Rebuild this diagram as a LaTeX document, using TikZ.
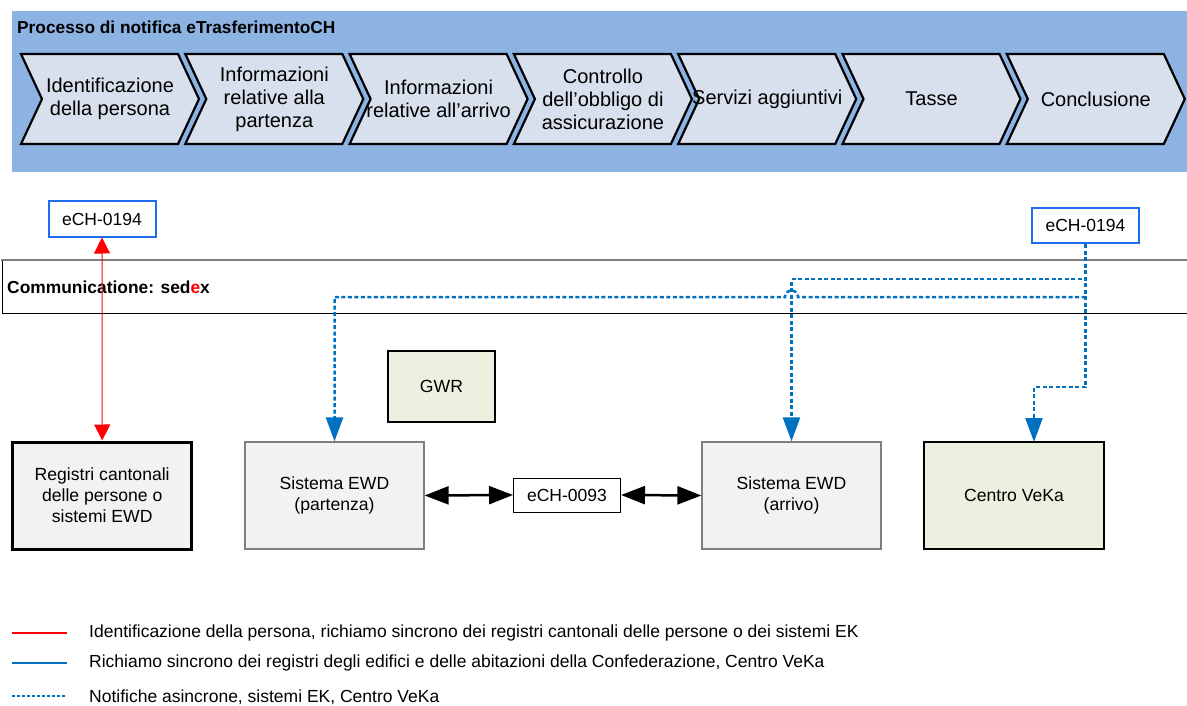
\documentclass[tikz,border=0pt]{standalone}
\usepackage{fontspec}
\setmainfont{Liberation Sans}
\usetikzlibrary{arrows.meta}

\definecolor{bandblue}{HTML}{8DB3E2}
\definecolor{chevfill}{HTML}{D7E0EC}
\definecolor{boxgray}{HTML}{F2F2F2}
\definecolor{boxgreen}{HTML}{EBF1DE}
\definecolor{msgblue}{HTML}{0070C0}
\definecolor{stdblue}{HTML}{1E6FF0}
\definecolor{edgegray}{HTML}{7F7F7F}

\tikzset{
  chev/.style={draw=black, line width=2.2pt, fill=chevfill, line join=miter},
  chevtext/.style={align=center, font=\fontsize{20}{23}\selectfont, inner sep=0pt},
  sysbox/.style={draw=edgegray, line width=1.3pt, fill=boxgray, minimum width=179pt,
    minimum height=107pt, inner sep=0pt, align=center, font=\fontsize{17.6}{21}\selectfont},
  regbox/.style={sysbox, draw=black, line width=3pt},
  greenbox/.style={sysbox, draw=black, line width=2.6pt, fill=boxgreen},
  stdbox/.style={draw=stdblue, line width=2pt, fill=white, minimum width=107pt,
    minimum height=35pt, inner sep=0pt, font=\fontsize{17.5}{20}\selectfont},
  msgbox/.style={draw=black, line width=1pt, fill=white, minimum width=107pt,
    minimum height=34pt, inner sep=0pt, font=\fontsize{17.5}{20}\selectfont},
  redlink/.style={draw=red, line width=1pt,
    {Triangle[length=16pt,width=16pt]}-{Triangle[length=16pt,width=16pt]}},
  asyncmsg/.style={draw=msgblue, line width=2.5pt, dash pattern=on 4pt off 2.5pt,
    -{Triangle[length=24pt,width=17pt]}},
  synclink/.style={draw=black, line width=2.5pt,
    {Triangle[length=24pt,width=18pt]}-{Triangle[length=24pt,width=18pt]}},
  legendtext/.style={anchor=west, inner sep=0pt, font=\fontsize{17.5}{20}\selectfont},
}

\begin{document}
\begin{tikzpicture}[x=1pt,y=-1pt]
\useasboundingbox (0,0) rectangle (1187,706);

% process band
\fill[bandblue] (12,11) rectangle (1187,172);
\node[anchor=west, inner sep=0pt, font=\bfseries\fontsize{17.3}{20}\selectfont] (title) at (17,27)
  {Processo di notifica eTrasferimentoCH};

% process phases
\foreach \i/\txt in {0/{Identificazione\\della persona},
                     1/{Informazioni\\relative alla\\partenza},
                     2/{Informazioni\\relative all’arrivo},
                     3/{Controllo\\dell’obbligo di\\assicurazione},
                     4/{Servizi aggiuntivi},
                     5/{Tasse},
                     6/{Conclusione}} {
  \pgfmathsetmacro\L{21+164.3*\i}
  \draw[chev] (\L,54) -- ++(157,0) -- ++(21,45) -- ++(-21,45) -- ++(-157,0) -- ++(21,-45) -- cycle;
  \node[chevtext] (phase\i) at (\L+89,99) {\txt};
}

% communication layer
\draw[black, line width=1pt] (2,260) -- (2,313) -- (1187,313);
\draw[edgegray, line width=2.5pt] (1,260) -- (1187,260);
\node[anchor=west, inner sep=0pt, font=\bfseries\fontsize{17.4}{20}\selectfont] (comm) at (7,287)
  {Communicatione: sed\textcolor{red}{e}x};

% standards
\node[stdbox] (std1) at (102,219) {eCH-0194};
\node[stdbox] (std2) at (1085.5,225.5) {eCH-0194};

% systems
\node[regbox] (reg) at (102.2,495.5) {Registri cantonali\\delle persone o\\sistemi EWD};
\node[sysbox] (dep) at (334.5,495.5) {Sistema EWD\\(partenza)};
\node[sysbox] (arr) at (791.5,495.5) {Sistema EWD\\(arrivo)};
\node[greenbox, minimum width=180pt] (veka) at (1014,495.5) {Centro VeKa};
\node[greenbox, minimum width=107pt, minimum height=71pt] (gwr) at (441.5,386.5) {GWR};
\node[msgbox] (e93) at (567,495) {eCH-0093};

% synchronous identification
\draw[redlink] (std1.south) -- (reg.north);

% EWD to EWD exchange
\draw[synclink] (dep.east) -- (e93.west);
\draw[synclink] (e93.east) -- (arr.west);

% asynchronous notifications
\coordinate (vA) at (1085.5,279);
\coordinate (hA) at (791.5,279);
\coordinate (vB) at (1085.5,297);
\coordinate (hB) at (334.5,297);
\coordinate (vC) at (1085.5,387);
\coordinate (hC) at (1034,387);
\coordinate (tC) at (1034,442);
\draw[asyncmsg] (std2.south) -- (vA) -- (hA) -- (arr.north);
\draw[asyncmsg] (vB) -- (798,297) arc[start angle=0, end angle=-180, radius=6.5] -- (hB) -- (dep.north);
\draw[asyncmsg] (std2.south) -- (vC) -- (hC) -- (tC);

% legend
\coordinate (l1a) at (12,633); \coordinate (l1b) at (67,633);
\coordinate (l2a) at (12,663); \coordinate (l2b) at (67,663);
\coordinate (l3a) at (12,696); \coordinate (l3b) at (67,696);
\draw[red, line width=2.5pt] (l1a) -- (l1b);
\draw[msgblue, line width=2pt] (l2a) -- (l2b);
\draw[msgblue, line width=2.5pt, dash pattern=on 3pt off 2pt] (l3a) -- (l3b);
\node[legendtext] (leg1) at (89,633) {Identificazione della persona, richiamo sincrono dei registri cantonali delle persone o dei sistemi EK};
\node[legendtext] (leg2) at (89,663) {Richiamo sincrono dei registri degli edifici e delle abitazioni della Confederazione, Centro VeKa};
\node[legendtext] (leg3) at (89,697) {Notifiche asincrone, sistemi EK, Centro VeKa};
\end{tikzpicture}
\end{document}
